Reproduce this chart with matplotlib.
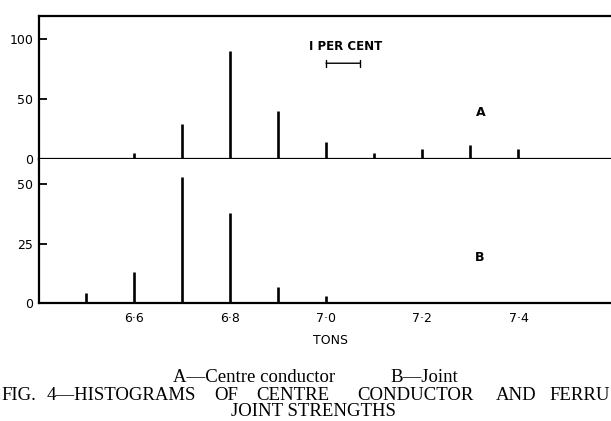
import matplotlib
matplotlib.use("Agg")
import matplotlib.pyplot as plt

# Data
tons_a = [6.6, 6.7, 6.8, 6.9, 7.0, 7.1, 7.2, 7.3, 7.4]
count_a = [5, 29, 90, 40, 14, 5, 8, 12, 8]
tons_b = [6.5, 6.6, 6.7, 6.8, 6.9, 7.0]
count_b = [4.5, 13, 53, 38, 7, 3]
xtick_vals = [6.6, 6.8, 7.0, 7.2, 7.4]
xtick_labels = ["6·6", "6·8", "7·0", "7·2", "7·4"]
yticks_a = [0, 50, 100]
yticks_b = [0, 25, 50]
scale_start, scale_len = 7.0, 0.07

W, H = 611, 421
fig = plt.figure(figsize=(W / 100, H / 100), dpi=100)

def fx(px):
    return px / W

def fy(py):
    return 1 - py / H

left = fx(39)
width = 1 - left + 0.002
ax_a = fig.add_axes([left, fy(159), width, fy(15.7) - fy(159)])
ax_b = fig.add_axes([left, fy(303.3), width, fy(159) - fy(303.3)])

xlim = (6.403, 7.595)
lw_bar = 1.9
lw_sp = 1.6

for ax in (ax_a, ax_b):
    ax.set_xlim(*xlim)
    ax.spines["right"].set_visible(False)
    for s in ("left", "bottom", "top"):
        ax.spines[s].set_linewidth(lw_sp)
    ax.tick_params(axis="y", direction="in", length=6, width=1.3, pad=4,
                   labelsize=9)
    ax.set_facecolor("white")

ax_a.vlines(tons_a, 0, count_a, color="black", lw=lw_bar)
ax_a.set_ylim(0, 119.4)
ax_a.set_yticks(yticks_a)
ax_a.set_xticks([])

ax_b.vlines(tons_b, 0, count_b, color="black", lw=lw_bar)
ax_b.set_ylim(0, 60.6)
ax_b.set_yticks(yticks_b)
ax_b.spines["top"].set_visible(False)
ax_b.set_xticks(xtick_vals)
ax_b.set_xticklabels(xtick_labels)
ax_b.tick_params(axis="x", length=0, pad=6, labelsize=9)

# annotations
ax_a.text(7.0396, 93.6, "I PER CENT", ha="center", va="center",
          fontsize=8.5, fontweight="bold", family="DejaVu Sans")
ax_a.annotate("", xy=(scale_start, 79.8), xytext=(scale_start + scale_len, 79.8),
              arrowprops=dict(arrowstyle="|-|,widthA=0.25,widthB=0.25",
                              lw=1.0, color="black", shrinkA=0, shrinkB=0))
ax_a.text(7.322, 38.6, "A", ha="center", va="center", fontsize=9,
          fontweight="bold")
ax_b.text(7.320, 19.3, "B", ha="center", va="center", fontsize=9,
          fontweight="bold")

fig.text(fx(330), fy(340.7), "TONS", ha="center", va="center", fontsize=9,
         family="DejaVu Sans")

serif = dict(family="Liberation Serif", fontsize=13.5, va="center")
fig.text(fx(173), fy(378), "A—Centre conductor", ha="left", **serif)
fig.text(fx(390), fy(378), "B—Joint", ha="left", **serif)

words = ["FIG.", "4—HISTOGRAMS", "OF", "CENTRE", "CONDUCTOR", "AND", "FERRU"]
word_x = [1, 47, 214, 256, 357, 496, 549]
for w, x in zip(words, word_x):
    fig.text(fx(x), fy(395), w, ha="left", **serif)
fig.text(fx(313), fy(411.5), "JOINT STRENGTHS", ha="center", **serif)

fig.savefig("out.png", dpi=100, facecolor="white")
